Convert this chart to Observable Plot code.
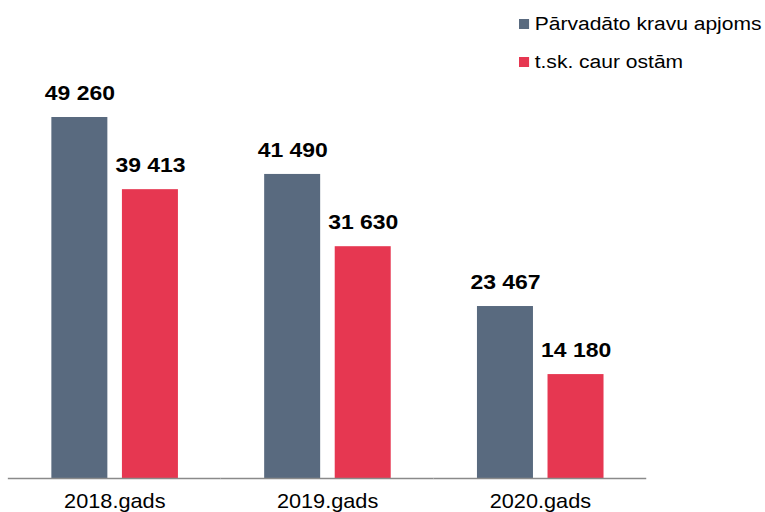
<!DOCTYPE html>
<html><head><meta charset="utf-8">
<script src="https://cdn.jsdelivr.net/npm/d3@7"></script>
<script src="https://cdn.jsdelivr.net/npm/@observablehq/plot@0.6"></script>
<style>
html,body{margin:0;padding:0;background:#fff;}
#wrap{position:relative;width:765px;height:512px;overflow:hidden;font-family:"Liberation Sans",Arial,sans-serif;}
#legend{position:absolute;left:519px;top:5px;transform:scaleX(1.12);transform-origin:0 0;}
.row{display:flex;align-items:center;height:38px;font-size:18.8px;color:#000;white-space:nowrap;}
.sw{width:9px;height:10px;margin-right:5px;flex:none;}
#chart svg{display:block;}
</style></head><body><div id="wrap"><div id="legend"></div><div id="chart"></div></div>
<script>
const years = ["2018.gads", "2019.gads", "2020.gads"];
const series = ["Pārvadāto kravu apjoms", "t.sk. caur ostām"];
const totalVolume = [49260, 41490, 23467];
const viaPorts = [39413, 31630, 14180];
const colors = ["#596a7f", "#e63751"];

const rows = [];
years.forEach((y, i) => {
  rows.push({year: y, series: series[0], value: totalVolume[i]});
  rows.push({year: y, series: series[1], value: viaPorts[i]});
});

const fmt = d3.formatLocale({thousands: " ", grouping: [3], decimal: ","}).format(",d");

// the reference is horizontally stretched by about 12%
const stretch = 1.12;
const W = 765 / stretch;

const chart = Plot.plot({
  width: W,
  height: 512,
  marginLeft: 8 / stretch,
  marginRight: 118 / stretch,
  marginTop: 117,
  marginBottom: 34,
  style: {fontFamily: "'Liberation Sans', Arial, sans-serif", fontSize: "19.4px", color: "#000", background: "#fff", overflow: "visible"},
  facet: {data: rows, x: "year"},
  fx: {domain: years, padding: 0, axis: "bottom", tickSize: 0, tickPadding: 16, label: null},
  x: {domain: series, paddingInner: 15 / 71, paddingOuter: 0.6056, axis: null},
  y: {domain: [0, 49260], axis: null},
  color: {domain: series, range: colors},
  marks: [
    Plot.barY(rows, {x: "series", y: "value", fill: "series"}),
    Plot.text(rows, {x: "series", y: "value", text: d => fmt(d.value), lineAnchor: "bottom", dy: -17.3, fontSize: 20.5, fontWeight: "bold", fill: "#000"}),
    Plot.ruleY([0], {stroke: "#8a8a8a", strokeWidth: 1.6})
  ]
});
chart.setAttribute("width", 765);
chart.setAttribute("preserveAspectRatio", "none");
chart.style.width = "765px";
document.getElementById("chart").appendChild(chart);

const legend = d3.select("#legend");
series.forEach((s, i) => {
  const r = legend.append("div").attr("class", "row");
  r.append("div").attr("class", "sw").style("background", colors[i]);
  r.append("span").text(s);
});
</script>
</body></html>
